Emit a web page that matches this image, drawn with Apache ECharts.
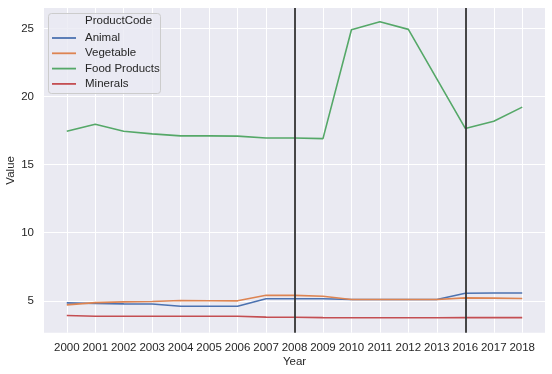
<!DOCTYPE html>
<html>
<head>
<meta charset="utf-8">
<script src="https://cdn.jsdelivr.net/npm/echarts@6/dist/echarts.min.js"></script>
<style>
html,body{margin:0;padding:0;background:#fff;}
#chart{width:552px;height:374px;}
</style>
</head>
<body>
<div id="chart"></div>
<script>
const years = ['2000','2001','2002','2003','2004','2005','2006','2007','2008','2009','2010','2011','2012','2013','2016','2017','2018'];
const animal = [4.85,4.80,4.78,4.77,4.60,4.60,4.60,5.15,5.15,5.15,5.10,5.10,5.10,5.10,5.56,5.58,5.58];
const vegetable = [4.70,4.87,4.92,4.95,5.02,5.01,5.00,5.41,5.40,5.34,5.10,5.10,5.10,5.10,5.22,5.20,5.17];
const foodProducts = [17.45,17.97,17.45,17.26,17.11,17.11,17.09,16.96,16.95,16.91,24.90,25.49,24.93,21.30,17.66,18.19,19.22];
const minerals = [3.92,3.87,3.87,3.87,3.87,3.87,3.87,3.80,3.79,3.77,3.76,3.76,3.76,3.76,3.77,3.77,3.77];
const yTicks = [5,10,15,20,25];
const markYears = ['2008','2016'];
const seriesNames = ['Animal','Vegetable','Food Products','Minerals'];
const seriesValues = [animal, vegetable, foodProducts, minerals];
const colors = ['#4c72b0','#dd8452','#55a868','#c44e52'];

const FONT = "'Liberation Sans', Arial, sans-serif";
const chart = echarts.init(document.getElementById('chart'), null, {renderer:'canvas'});
const xIdx = years.map((y,i)=>i);

const series = seriesNames.map((name, k) => ({
  name: name,
  type: 'line',
  data: seriesValues[k].map((v,i)=>[i,v]),
  symbol: 'none',
  showSymbol: false,
  lineStyle: {width: 1.6, color: colors[k]},
  itemStyle: {color: colors[k]},
  z: 3,
  animation: false
}));
series[0].markLine = {
  silent: true,
  symbol: ['none','none'],
  label: {show:false},
  lineStyle: {color:'#333333', width:1.8, type:'solid'},
  data: markYears.map(y => ({xAxis: years.indexOf(y)})),
  animation: false
};

chart.setOption({
  animation: false,
  backgroundColor: '#ffffff',
  grid: {left:44, top:8, right:7, bottom:41.3, show:true, backgroundColor:'#eaeaf2', borderWidth:0, outerBoundsMode:'none', containLabel:false},
  xAxis: {
    type:'value', min:-0.8, max:16.8,
    name:'Year', nameLocation:'middle', nameGap:23.5, nameMoveOverlap:false,
    nameTextStyle:{color:'#262626', fontFamily:FONT, fontSize:11.5},
    axisLine:{show:false},
    axisTick:{show:false, customValues:xIdx},
    axisLabel:{customValues:xIdx, formatter:(v)=>years[Math.round(v)], color:'#262626', fontFamily:FONT, fontSize:11.5, margin:9},
    splitLine:{show:true, lineStyle:{color:'#ffffff', width:1}}
  },
  yAxis: {
    type:'value', min:2.66, max:26.5,
    name:'Value', nameLocation:'middle', nameGap:27, nameMoveOverlap:false,
    nameTextStyle:{color:'#262626', fontFamily:FONT, fontSize:11.5},
    axisLine:{show:false},
    axisTick:{show:false, customValues:yTicks},
    axisLabel:{customValues:yTicks, color:'#262626', fontFamily:FONT, fontSize:11.5, margin:10},
    splitLine:{show:true, lineStyle:{color:'#ffffff', width:1}}
  },
  legend: {
    orient:'vertical', left:52, top:31, padding:0,
    itemWidth:24, itemHeight:1.8, itemGap:1.3,
    icon:'rect',
    data: seriesNames,
    textStyle:{color:'#262626', fontFamily:FONT, fontSize:11.5, lineHeight:14, padding:[0,0,0,4]},
    z: 6
  },
  graphic: {elements:[
    {type:'rect', left:48, top:13, z:5, shape:{width:112, height:80, r:3},
     style:{fill:'rgba(234,234,242,0.8)', stroke:'#cccccc', lineWidth:1}},
    {type:'text', left:85, top:15, z:6,
     style:{text:'ProductCode', fill:'#262626', font:"11.5px 'Liberation Sans', Arial, sans-serif"}}
  ]},
  series: series
});
</script>
</body>
</html>
